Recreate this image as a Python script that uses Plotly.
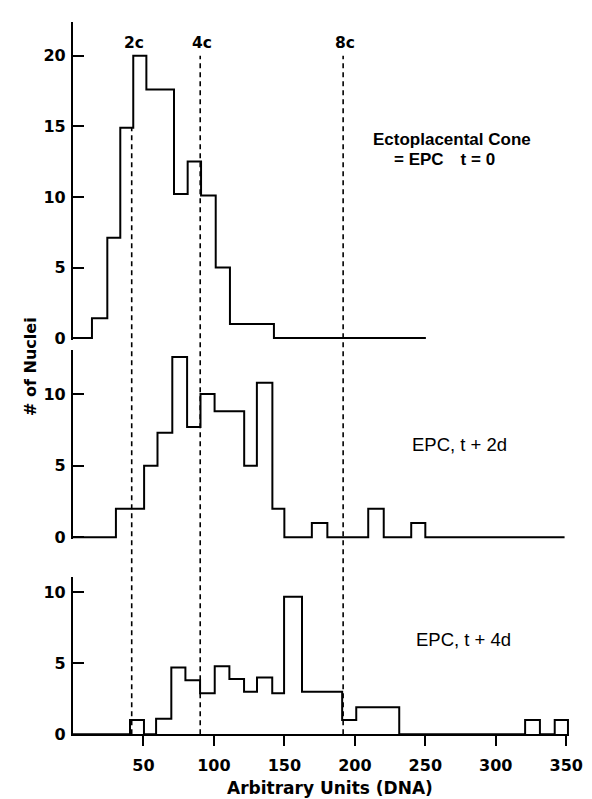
import plotly.graph_objects as go

# ---------------- data ----------------
# bin edges (arbitrary DNA units) and nuclei counts; 0 = empty bin
top_edges = [13.5, 24.4, 33.6, 42.8, 52.1, 71.7, 81.4, 90.9, 101.3, 111.4, 142.6]
top_counts = [1.4, 7.1, 14.9, 20.0, 17.6, 10.2, 12.5, 10.1, 5.0, 1.0]

mid_edges = [30.5, 50.5, 60.0, 70.5, 81.0, 90.5, 100.5, 121.5, 130.5, 141.5, 150.0,
             169.5, 180.5, 209.5, 220.5, 240.0, 250.0]
mid_counts = [2.0, 5.0, 7.3, 12.6, 7.7, 10.0, 8.8, 5.0, 10.8, 2.0, 0, 1.0, 0, 2.0, 0, 1.0]

bot_edges = [40.5, 50.4, 59.0, 69.8, 79.8, 90.2, 100.6, 111.0, 121.4, 130.6, 141.4, 149.8,
             162.5, 191.0, 201.0, 231.5, 320.8, 331.3, 341.8, 351.2]
bot_counts = [1.0, 0, 1.1, 4.7, 3.8, 2.9, 4.8, 3.9, 3.0, 4.0, 2.9, 9.7, 3.0, 1.0, 1.9,
              0, 1.0, 0, 1.0]

ploidy_labels = ["2c", "4c", "8c"]
ploidy_x = [41.7, 90.3, 191.7]

x_ticks = [50, 100, 150, 200, 250, 300, 350]
top_yticks = [0, 5, 10, 15, 20]
mid_yticks = [0, 5, 10]
bot_yticks = [0, 5, 10]

panel_texts = ["Ectoplacental Cone", "= EPC\u2003t = 0", "EPC, t + 2d", "EPC, t + 4d"]
x_title = "Arbitrary Units (DNA)"
y_title = "# of Nuclei"

# ---------------- layout geometry ----------------
W, H = 592, 799
X_RANGE = [0, 352]
X0_PX, X_SCALE = 66.5, 1.4437


def fx(p):
    return p / W


def fy(p):
    return 1 - p / H


x_dom = [fx(X0_PX), fx(X0_PX + X_RANGE[1] * X_SCALE)]

# (zero-line pixel, top pixel, baseline end value, pad px)
panels = {
    "top": dict(base=334.3, top=14.0, end=250.4, pad=2, ticks=top_yticks),
    "mid": dict(base=536.0, top=346.0, end=348.8, pad=2, ticks=mid_yticks),
    "bot": dict(base=735.5, top=576.0, end=None, pad=0, ticks=bot_yticks),
}
scales = {"top": 14.3, "mid": 14.5, "bot": 14.37}


def step_xy(edges, counts, base_end):
    xs, ys = [0, edges[0]], [0, 0]
    for i, c in enumerate(counts):
        xs += [edges[i], edges[i + 1]]
        ys += [c, c]
    xs += [edges[-1]]
    ys += [0]
    if base_end is not None:
        xs += [base_end]
        ys += [0]
    return xs, ys


tick_font = dict(family="DejaVu Sans", size=16, color="black", weight="bold")

fig = go.Figure()
data_map = {"top": (top_edges, top_counts, "y3"),
            "mid": (mid_edges, mid_counts, "y2"),
            "bot": (bot_edges, bot_counts, "y")}
for key, (edges, counts, yref) in data_map.items():
    xs, ys = step_xy(edges, counts, panels[key]["end"])
    fig.add_trace(go.Scatter(x=xs, y=ys, xaxis="x", yaxis=yref, mode="lines",
                             line=dict(color="black", width=2), hoverinfo="skip"))

axis_names = {"top": "yaxis3", "mid": "yaxis2", "bot": "yaxis"}
layout_axes = {}
doms = {}
rngs = {}
for key, p in panels.items():
    s = scales[key]
    dom = [fy(p["base"] + p["pad"]), fy(p["top"])]
    rng = [-p["pad"] / s, (p["base"] - p["top"]) / s]
    doms[key], rngs[key] = dom, rng
    layout_axes[axis_names[key]] = dict(
        domain=dom, range=rng, anchor="x", showline=True, linewidth=2, linecolor="black",
        ticks="inside", ticklen=11, tickwidth=2, tickcolor="black", tickvals=p["ticks"],
        tickfont=tick_font, showgrid=False, zeroline=False, ticklabelstandoff=2,
    )


def to_paper(key, v):
    d, r = doms[key], rngs[key]
    return d[0] + (v - r[0]) / (r[1] - r[0]) * (d[1] - d[0])


shapes = []
line_tops = [14.9, 20.0, 20.0]
for xv, t in zip(ploidy_x, line_tops):
    shapes.append(dict(type="line", xref="x", yref="paper", x0=xv, x1=xv,
                       y0=to_paper("bot", 0), y1=to_paper("top", t),
                       line=dict(color="black", width=1.6, dash="5px,4px")))

annotations = []
for lab, xv in zip(ploidy_labels, ploidy_x):
    annotations.append(dict(text=lab, x=xv, xref="x", xshift=2, y=fy(35), yref="paper",
                            showarrow=False, xanchor="center", yanchor="middle",
                            font=dict(family="DejaVu Sans", size=15.5, color="black",
                                      weight="bold")))

text_pos = [(455, 133), (447, 153), (462.5, 442), (466.5, 640)]
text_bold = [True, True, False, False]
text_size = [17, 17, 18.5, 18.5]
for t, (px, py), b, sz in zip(panel_texts, text_pos, text_bold, text_size):
    annotations.append(dict(text=t, x=fx(px), y=fy(py), xref="paper", yref="paper",
                            showarrow=False, xanchor="center", yanchor="middle",
                            font=dict(family="Liberation Sans", size=sz, color="black",
                                      weight="bold" if b else "normal")))

annotations.append(dict(text=x_title, x=fx(330), y=fy(790), xref="paper", yref="paper",
                        showarrow=False, xanchor="center", yanchor="middle",
                        font=dict(family="DejaVu Sans", size=17, color="black", weight="bold")))
annotations.append(dict(text=y_title, x=fx(23), y=fy(363), xref="paper", yref="paper",
                        showarrow=False, xanchor="center", yanchor="middle", textangle=-90,
                        font=dict(family="DejaVu Sans", size=16, color="black", weight="bold")))

fig.update_layout(
    width=W, height=H, margin=dict(l=0, r=0, t=0, b=0),
    paper_bgcolor="white", plot_bgcolor="white", showlegend=False,
    xaxis=dict(domain=x_dom, range=X_RANGE, anchor="y", showline=True, linewidth=2,
               linecolor="black", ticks="outside", ticklen=10, tickwidth=2,
               tickcolor="black", tickvals=x_ticks, tickfont=tick_font, showgrid=False,
               zeroline=False, ticklabelstandoff=6),
    shapes=shapes, annotations=annotations,
    **layout_axes,
)

fig.write_html("out.html")
